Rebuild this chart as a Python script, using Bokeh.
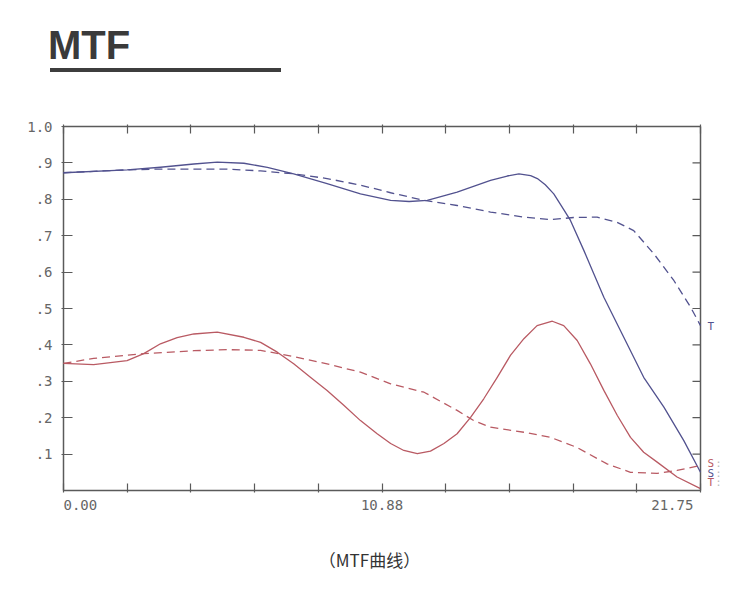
from bokeh.plotting import figure
from bokeh.layouts import column
from bokeh.models import LinearAxis, FixedTicker, Range1d, Div
from bokeh.core.properties import value
from bokeh.embed import file_html
from bokeh.resources import INLINE

# ---------------- data ----------------
blue_solid_x = [0.00, 2.17, 3.31, 4.45, 5.25, 6.16, 6.96, 7.86, 9.00, 10.14, 11.17, 11.80, 12.42, 13.44,
                14.58, 15.15, 15.55, 15.95, 16.18, 16.45, 16.74, 17.00, 17.31, 17.77, 18.11, 18.45, 19.13,
                19.81, 20.50, 21.18, 21.75]
blue_solid_y = [0.873, 0.881, 0.888, 0.897, 0.902, 0.899, 0.888, 0.870, 0.843, 0.815, 0.797, 0.794, 0.797, 0.820,
                0.852, 0.864, 0.870, 0.865, 0.857, 0.840, 0.815, 0.782, 0.742, 0.659, 0.595, 0.531, 0.421,
                0.311, 0.229, 0.137, 0.050]

blue_dash_x = [0.00, 2.17, 3.31, 5.59, 6.73, 7.86, 9.00, 10.14, 11.17, 12.31, 13.44, 14.58, 15.72,
               16.63, 17.42, 18.22, 18.90, 19.47, 20.16, 20.84, 21.41, 21.75]
blue_dash_y = [0.873, 0.881, 0.883, 0.883, 0.878, 0.870, 0.857, 0.839, 0.818, 0.797, 0.783, 0.765, 0.751,
               0.744, 0.750, 0.751, 0.737, 0.714, 0.650, 0.577, 0.504, 0.453]

red_solid_x = [0.00, 1.03, 2.17, 2.74, 3.31, 3.88, 4.45, 5.25, 6.16, 6.73, 7.30, 7.86, 8.43, 9.00, 9.57,
               10.14, 10.71, 11.17, 11.62, 12.08, 12.53, 12.99, 13.44, 13.90, 14.35, 14.81, 15.26,
               15.72, 16.17, 16.69, 17.08, 17.54, 17.99, 18.45, 18.91, 19.36, 19.81, 20.27, 20.95, 21.75]
red_solid_y = [0.349, 0.346, 0.357, 0.376, 0.403, 0.420, 0.430, 0.435, 0.421, 0.407, 0.380, 0.348, 0.311,
               0.275, 0.234, 0.192, 0.156, 0.129, 0.110, 0.101, 0.108, 0.129, 0.156, 0.201, 0.252, 0.311,
               0.371, 0.417, 0.453, 0.465, 0.453, 0.412, 0.348, 0.275, 0.206, 0.146, 0.105, 0.078, 0.037,
               0.005]

red_dash_x = [0.00, 1.03, 2.74, 4.45, 5.59, 6.73, 7.86, 9.00, 10.14, 11.17, 12.31, 13.44, 14.01, 14.58,
              15.72, 16.63, 17.54, 18.56, 19.36, 20.27, 20.95, 21.75]
red_dash_y = [0.349, 0.363, 0.376, 0.384, 0.387, 0.385, 0.368, 0.348, 0.325, 0.293, 0.270, 0.220, 0.192,
              0.174, 0.160, 0.146, 0.118, 0.073, 0.050, 0.047, 0.055, 0.069]

y_ticks = [0.1, 0.2, 0.3, 0.4, 0.5, 0.6, 0.7, 0.8, 0.9, 1.0]
y_tick_labels = [".1", ".2", ".3", ".4", ".5", ".6", ".7", ".8", ".9", "1.0"]
x_max = 21.75
x_ticks = [i * x_max / 10 for i in range(11)]
x_tick_labels = {0: "0.00", 5: "10.88", 10: "21.75"}

end_labels = ["T", "S", "S", "T"]
end_label_y = [0.450, 0.074, 0.047, 0.022]
end_label_series = ["blue", "red", "blue", "red"]

title_text = "MTF"
caption_text = "（MTF曲线）"

# ---------------- style ----------------
BLUE = "#52528f"
RED = "#b95a63"
AXC = "#5a5a5a"
TXT = "#666666"
MONO = "DejaVu Sans Mono"
W = 735

# layout geometry (pixels)
HEAD_H, MAIN_H, FOOT_H = 100, 420, 56
FR_L, FR_T, FR_R = 61, 124, 727   # frame edges (2px padding round the plot box)
PAD = 2
XPX = 637 / x_max                 # px per x unit
YPX = 364 / 1.0                   # px per y unit
x_start = -PAD / XPX
x_end = (FR_R - 63) / XPX
y_start = -PAD / YPX
y_end = 1.0 + PAD / YPX

# ---------------- head (title + rule) ----------------
head_html = (
    '<div style="position:relative;width:%dpx;height:%dpx;">'
    '<span style="position:absolute;left:48px;top:25px;font-family:\'Liberation Sans\',Arial,sans-serif;'
    'font-weight:bold;font-size:40px;line-height:40px;color:#3a3a3a;white-space:nowrap;">%s</span>'
    '<div style="position:absolute;left:50px;top:68px;width:231px;height:4px;background:#3d3d3d;"></div>'
    '</div>' % (W, HEAD_H, title_text)
)
head = Div(text=head_html, width=W, height=HEAD_H, margin=0)

# ---------------- main plot ----------------
p = figure(width=W, height=MAIN_H, x_range=Range1d(x_start, x_end), y_range=Range1d(y_start, y_end),
           output_backend="svg", toolbar_location=None,
           x_axis_location=None, y_axis_location=None,
           min_border_left=FR_L, min_border_right=W - FR_R,
           min_border_top=FR_T - HEAD_H, min_border_bottom=MAIN_H - (FR_T - HEAD_H) - 368)
p.grid.visible = False
p.outline_line_color = None
p.background_fill_color = "white"
p.border_fill_color = "white"

def style_axis(ax, tick_len):
    ax.axis_line_color = None
    ax.major_tick_line_color = AXC
    ax.major_tick_line_width = 1.2
    ax.major_tick_in = tick_len
    ax.major_tick_out = 0
    ax.minor_tick_line_color = None

left = LinearAxis(ticker=FixedTicker(ticks=y_ticks))
style_axis(left, 11)
left.major_label_overrides = {t: l for t, l in zip(y_ticks, y_tick_labels)}
left.major_label_text_font = MONO
left.major_label_text_font_size = "14px"
left.major_label_text_color = TXT
left.major_label_standoff = 9
p.add_layout(left, "left")

NB = "\u00a0"
bottom = LinearAxis(ticker=FixedTicker(ticks=x_ticks))
style_axis(bottom, 9)
blabels = {}
for i, t in enumerate(x_ticks):
    lab = x_tick_labels.get(i, "")
    if i == 0:
        lab = NB * len(lab) + lab
    elif i == len(x_ticks) - 1:
        lab = lab + NB * len(lab)
    blabels[t] = lab
bottom.major_label_overrides = blabels
bottom.major_label_text_font = MONO
bottom.major_label_text_font_size = "14px"
bottom.major_label_text_color = TXT
bottom.major_label_standoff = 4
p.add_layout(bottom, "below")

top = LinearAxis(ticker=FixedTicker(ticks=x_ticks))
style_axis(top, 9)
top.major_label_overrides = {t: "" for t in x_ticks}
p.add_layout(top, "above")

# plot box and right-hand ticks
p.quad(left=[0], right=[x_max], bottom=[0], top=[1.0], fill_color=None,
       line_color=AXC, line_width=1.5)
tick_len_r = 8 / XPX
p.segment(x0=[x_max] * len(y_ticks), y0=y_ticks, x1=[x_max - tick_len_r] * len(y_ticks), y1=y_ticks,
          line_color=AXC, line_width=1.2)

# curves
p.line(blue_solid_x, blue_solid_y, line_color=BLUE, line_width=1.3, line_join="round")
p.line(blue_dash_x, blue_dash_y, line_color=BLUE, line_width=1.3, line_dash="8 5", line_join="round")
p.line(red_solid_x, red_solid_y, line_color=RED, line_width=1.3, line_join="round")
p.line(red_dash_x, red_dash_y, line_color=RED, line_width=1.3, line_dash="8 5", line_join="round")

# end labels
colors = [BLUE if s == "blue" else RED for s in end_label_series]
lx = x_max + 7 / XPX
p.text(x=[lx] * 4, y=end_label_y, text=end_labels, text_color=colors, text_align="left",
       text_baseline="middle", text_font=value(MONO), text_font_size="11px")
colon_y = [yv for yv, t, s in zip(end_label_y, end_labels, end_label_series) if not (t == "T" and s == "blue")]
p.text(x=[x_max + 15 / XPX] * len(colon_y), y=colon_y, text=[":"] * len(colon_y), text_color="#b8b8b8",
       text_align="left", text_baseline="middle", text_font=value(MONO), text_font_size="10px")

# ---------------- foot (caption) ----------------
foot = figure(width=W, height=FOOT_H, x_range=Range1d(x_start, x_end), y_range=Range1d(FOOT_H, 0),
              output_backend="svg", toolbar_location=None,
              x_axis_location=None, y_axis_location=None, min_border=0)
foot.grid.visible = False
foot.outline_line_color = None
foot.text(x=[(369 - 63) / XPX], y=[39], text=[caption_text], text_align="center", text_baseline="middle",
          text_font=value("Noto Sans CJK SC"), text_font_size="17px", text_color="#333333")

layout = column(head, p, foot, spacing=0)
open("out.html", "w").write(file_html(layout, INLINE))
